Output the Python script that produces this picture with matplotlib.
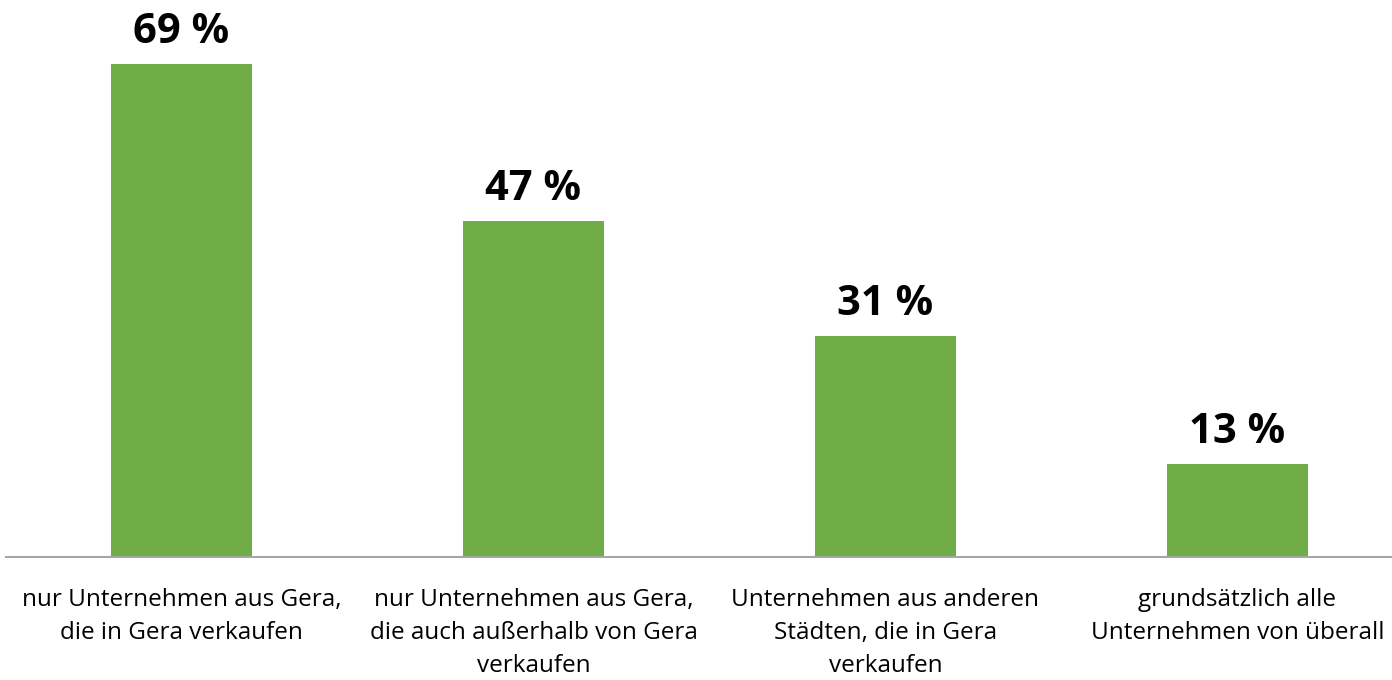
import matplotlib.pyplot as plt

categories = [
    "nur Unternehmen aus Gera,\ndie in Gera verkaufen",
    "nur Unternehmen aus Gera,\ndie auch außerhalb von Gera\nverkaufen",
    "Unternehmen aus anderen\nStädten, die in Gera\nverkaufen",
    "grundsätzlich alle\nUnternehmen von überall",
]
values = [69, 47, 31, 13]

plt.rcParams['font.family'] = ['Open Sans', 'DejaVu Sans']

W, H = 1392, 680
fig = plt.figure(figsize=(W / 100, H / 100), dpi=100)
# axes: baseline at y=557 px, left edge at x=5.5 px
ax = fig.add_axes([5.5 / W, 1 - 557 / H, 1 - 5.5 / W, 557 / H])

x = range(len(values))
ax.bar(x, values, width=0.4, color='#70AD47', zorder=2)

ax.set_xlim(-0.5, -0.5 + (W - 5.5) / 352)
ax.set_ylim(0, 557 / 7.145)

for xi, v in zip(x, values):
    ax.annotate(f"{v} %", (xi, v), xytext=(0, 15), textcoords='offset points',
                ha='center', va='baseline', fontsize=30, fontweight='bold',
                color='black')

for xi, lab in zip(x, categories):
    ax.annotate(lab, (xi, 0), xytext=(0, -22), textcoords='offset points',
                ha='center', va='top', fontsize=17.5, color='black',
                linespacing=1.52, annotation_clip=False)

for s in ['top', 'right', 'left']:
    ax.spines[s].set_visible(False)
ax.spines['bottom'].set_color('#A6A6A6')
ax.spines['bottom'].set_linewidth(1.5)
ax.set_xticks([])
ax.set_yticks([])

fig.savefig('out.png', dpi=100)
